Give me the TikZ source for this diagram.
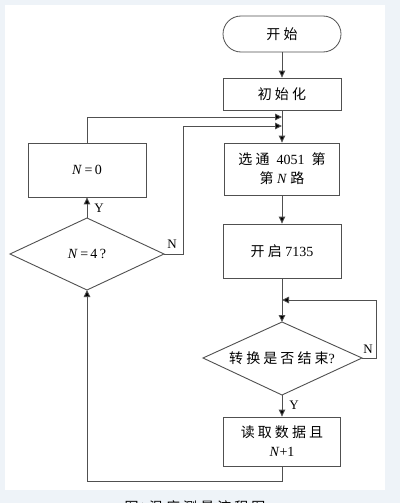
\documentclass[tikz,border=0pt]{standalone}
\usepackage{fontspec}
\setmainfont{Liberation Serif}
\newfontfamily\cjk[LetterSpace=22]{Noto Sans CJK SC}
\usetikzlibrary{arrows.meta}
\definecolor{bgc}{HTML}{EEF3F8}
\definecolor{linec}{HTML}{505050}
\tikzset{
  boxnode/.style={draw=linec, line width=0.8pt, minimum width=117pt, inner sep=0pt, align=center, font=\fontsize{14}{19}\selectfont},
  conn/.style={draw=linec, line width=0.9pt},
  arr/.style={conn, -{Triangle[length=7pt,width=6.5pt,fill=black]}},
  lbl/.style={font=\fontsize{13}{15}\selectfont, inner sep=0pt},
  txt/.style={font=\fontsize{14}{18}\selectfont, inner sep=0pt, align=center}
}
\begin{document}
\begin{tikzpicture}[x=1pt,y=-1pt]
\useasboundingbox (0,0) rectangle (400,503);
\fill[bgc] (0,0) rectangle (400,503);
\fill[white] (5,5) rectangle (385,490);

% nodes
\node[boxnode, minimum height=36pt, rounded corners=18pt, minimum width=118pt] (start) at (282,34) {\cjk 开始};
\node[boxnode, minimum height=32pt, minimum width=118pt] (init) at (282,94) {\cjk 初始化};
\node[boxnode, minimum height=52pt, minimum width=115pt] (sel) at (282,169) {{\cjk 选通}\ \ 4051\ \ {\cjk 第}\\{\cjk 第}\ \textit{N}\ {\cjk 路}};
\node[boxnode, minimum height=54pt, minimum width=118pt] (open) at (282,251) {{\cjk 开启}\ 7135};
\node[boxnode, minimum height=49pt, minimum width=117pt] (read) at (282,441.5) {{\cjk 读取数据且}\\\textit{N}+1};
\node[boxnode, minimum height=54pt, minimum width=118pt] (nzero) at (87,170) {\textit{N}\,=\,0};

% diamonds
\coordinate (cvt) at (282,322);
\coordinate (cvb) at (282,395);
\coordinate (cvl) at (203,358);
\coordinate (cvr) at (362,358);
\draw[conn] (cvt) -- (cvr) -- (cvb) -- (cvl) -- cycle;
\node[txt] (cvtext) at (282,358) {{\cjk 转换是否结束}?};

\coordinate (nft) at (87,218);
\coordinate (nfb) at (87,290);
\coordinate (nfl) at (10,254);
\coordinate (nfr) at (164,254);
\draw[conn] (nft) -- (nfr) -- (nfb) -- (nfl) -- cycle;
\node[txt] (nftext) at (87,254) {\textit{N}\,=\,4\,?};

% junctions
\coordinate (j1) at (282,117);
\coordinate (j2) at (282,126);
\coordinate (j3) at (282,300);
\coordinate (c1) at (87,117);
\coordinate (c2) at (183,254);
\coordinate (c3) at (183,126);
\coordinate (c4) at (376,358);
\coordinate (c5) at (376,300);
\coordinate (c6) at (282,481);
\coordinate (c7) at (87,481);

% connectors
\draw[arr] (start) -- (init);
\draw[arr] (init) -- (sel);
\draw[arr] (nzero.north) -- (c1) -- (j1);
\draw[arr] (nfr) -- (c2) -- (c3) -- (j2);
\draw[arr] (nft) -- (nzero.south);
\draw[arr] (sel) -- (open);
\draw[arr] (open.south) -- (cvt);
\draw[arr] (cvr) -- (c4) -- (c5) -- (j3);
\draw[arr] (cvb) -- (read.north);
\draw[arr] (read.south) -- (c6) -- (c7) -- (nfb);

% labels
\node[lbl] (ly1) at (99,208) {Y};
\node[lbl] (ln1) at (172,244) {N};
\node[lbl] (ln2) at (368,349) {N};
\node[lbl] (ly2) at (294,405) {Y};

% caption (cut off at bottom, as in the reference)
\begin{scope}
\clip (0,490) rectangle (400,503);
\node[font=\fontsize{14}{16}\selectfont, inner sep=0pt] (cap) at (195,507) {{\cjk 图}1\ {\cjk 温度测量流程图}};
\end{scope}
\end{tikzpicture}
\end{document}
